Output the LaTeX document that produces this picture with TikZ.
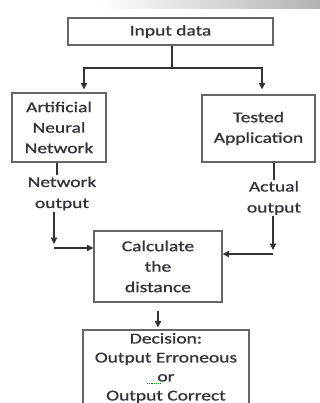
\documentclass[tikz,border=0pt]{standalone}
\usepackage{fontspec}
\setmainfont{Carlito}[FakeStretch=1.3, FakeBold=0.9]
\usepackage{xcolor}
\usetikzlibrary{arrows.meta,positioning,calc}
\definecolor{ink}{HTML}{33333D}
\definecolor{frame}{HTML}{666666}

\begin{document}
\begin{tikzpicture}[
  x=1pt, y=-1pt,
  >={Triangle[length=6.5pt,width=6.5pt]},
  box/.style={draw=frame, line width=1.3pt, fill=white, align=center, inner sep=0pt,
    text=ink, font=\fontsize{15}{20.5}\selectfont},
  lbl/.style={align=center, inner sep=1pt, text=ink, font=\fontsize{15}{21}\selectfont},
  wire/.style={draw=black!80, line width=1.2pt}]
  \useasboundingbox (0,0) rectangle (320,403);
  \clip (0,0) rectangle (320,403);
  \shade[left color=white, right color=black!30] (100,0) rectangle (320,9);
  \node[box, minimum width=205pt, minimum height=27pt] (input) at (170.5,31.5) {Input data};
  \node[box, minimum width=94pt, minimum height=69pt] (ann) at (59,127.5) {Artificial\\Neural\\Network};
  \node[box, minimum width=113pt, minimum height=67pt] (tested) at (258.5,128.5) {Tested\\Application};
  \node[lbl] (netout) at (62,193.5) {Network\\output};
  \node[lbl] (actual) at (274,198) {Actual\\output};
  \node[box, minimum width=128pt, minimum height=71pt] (calc) at (158,266.5) {Calculate\\the\\distance};
  \node[box, minimum width=166pt, minimum height=76pt, font=\fontsize{15}{19}\selectfont] (decision) at (166,368) {Decision:\\Output Erroneous\\or\\Output Correct};
  \draw[green!55!black, densely dotted, line width=0.8pt] (147,383.5) -- (160,383.5);
  \coordinate (split) at (172,68);
  \coordinate (cL) at (54,248);
  \coordinate (cR) at (273,254);
  \draw[wire] (input.south -| split) -- (split);
  \draw[wire, ->, shorten >=3pt] (split) -| ([xshift=25pt]ann.north);
  \draw[wire, ->, shorten >=5pt] (split) -| ([xshift=3.5pt]tested.north);
  \draw[wire] (ann.south -| 57,0) -- (netout.north -| 57,0);
  \draw[wire] (tested.south -| actual) -- (actual.north);
  \draw[wire, ->, shorten >=4pt] (netout.south -| cL) -- (cL);
  \draw[wire, ->] (cL) -- (cL -| calc.west);
  \draw[wire, ->, shorten >=4pt] (actual.south -| cR) -- (cR);
  \draw[wire, ->] (cR) -- (cR -| calc.east);
  \draw[wire, ->, shorten <=8pt, shorten >=2pt] (calc.south) -- (calc.south |- decision.north);
\end{tikzpicture}
\end{document}
